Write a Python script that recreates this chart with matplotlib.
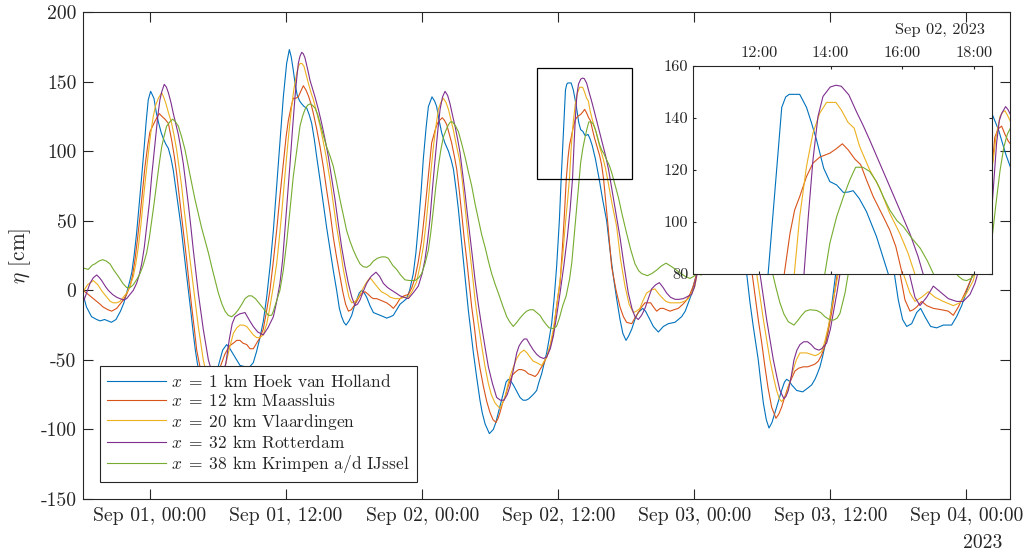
import numpy as np
import matplotlib
matplotlib.use("Agg")
import matplotlib.pyplot as plt
import matplotlib.dates as mdates
from matplotlib.patches import Rectangle

# ---------------- data: (hours since 2023-09-01 00:00, eta [cm]) ----------------
hoek_van_holland = [
    (-5.9,-3),(-5.6,-12),(-5.15,-19),(-4.7,-21),(-4.4,-22),(-4.0,-21),(-3.7,-22),(-3.4,-23),(-3.0,-21),(-2.6,-15),
    (-2.3,-9),(-2.06,-2),(-1.8,6),(-1.6,13),(-1.4,25),(-1.18,41),(-0.95,62),(-0.73,82),(-0.5,104),(-0.35,120),
    (-0.15,137),(0.06,143),(0.35,138),(0.55,128),(0.74,121),(1.0,113),(1.18,109),(1.4,105),(1.62,102),(1.85,95),
    (2.06,86),(2.3,72),(2.5,60),(2.75,45),(2.94,31),(3.2,13),(3.38,0),(3.6,-15),(3.82,-31),(4.0,-43),(4.17,-52),
    (4.5,-66),(4.9,-77),(5.3,-82),(5.7,-75),(6.04,-54),(6.41,-43),(6.76,-39),(7.05,-42),(7.35,-46),(7.65,-50),
    (7.94,-54),(8.4,-55),(8.8,-55),(9.11,-52),(9.4,-44),(9.7,-34),(10.0,-22),(10.29,-5),(10.6,18),(10.88,43),
    (11.1,67),(11.32,91),(11.55,116),(11.76,139),(12.05,163),(12.29,173),(12.45,168),(12.64,158),(12.82,147),
    (12.99,140),(13.2,136),(13.38,134),(13.6,132),(13.82,131),(14.05,126),(14.26,120),(14.5,108),(14.7,96),
    (15.0,79),(15.29,62),(15.58,45),(15.88,29),(16.17,14),(16.46,0),(16.7,-13),(16.9,-19),(17.1,-23),(17.29,-25),
    (17.55,-22),(17.79,-18),(18.0,-12),(18.23,-7),(18.45,-2),(18.67,0),(18.9,-2),(19.11,-5),(19.4,-11),(19.7,-16),
    (20.0,-17),(20.29,-18),(20.6,-19),(20.87,-20),(21.2,-19),(21.46,-18),(21.75,-14),(22.05,-10),(22.35,-8),
    (22.63,-6),(22.9,0),(23.22,12),(23.45,27),(23.66,46),(23.9,70),(24.1,94),(24.35,117),(24.55,132),(24.87,139),
    (25.1,136),(25.28,132),(25.5,122),(25.73,113),(26.0,106),(26.32,100),(26.55,94),(26.76,87),(27.0,72),
    (27.2,58),(27.4,41),(27.63,22),(27.85,4),(28.07,-14),(28.3,-30),(28.52,-45),(28.8,-62),(29.1,-79),(29.3,-88),
    (29.55,-96),(29.93,-103),(30.28,-100),(30.5,-95),(30.72,-88),(31.0,-79),(31.22,-72),(31.4,-66),(31.6,-64),
    (31.8,-65),(32.04,-68),(32.3,-72),(32.63,-77),(32.9,-79),(33.16,-79),(33.4,-78),(33.66,-76),(33.9,-74),
    (34.1,-72),(34.3,-66),(34.54,-60),(34.75,-53),(34.98,-45),(35.2,-35),(35.42,-24),(35.65,-5),(35.86,17),
    (36.1,50),(36.26,80),(36.45,112),(36.64,144),(36.75,148),(36.85,149),(37.14,149),(37.33,144),(37.47,138),
    (37.61,131.5),(37.81,120.6),(37.98,115.5),(38.17,114.2),(38.36,111.3),(38.5,111.5),(38.63,112),(38.8,109),
    (39.0,104),(39.28,94.4),(39.45,87),(39.61,80),(39.9,66),(40.27,50),(40.55,30),(40.86,10),(41.15,-6),
    (41.45,-21),(41.7,-31),(41.98,-36),(42.2,-33),(42.48,-28),(42.8,-20),(43.06,-16),(43.45,-13),(43.7,-15),
    (43.95,-19),(44.39,-26),(44.83,-30),(45.27,-26),(45.71,-24),(46.3,-23),(46.88,-19),(47.2,-15),(47.47,-9),
    (47.7,-4),(47.91,3),(48.21,12),(48.45,27),(48.66,46),(48.9,70),(49.1,94),(49.35,117),(49.55,132),(49.87,139),
    (50.1,136),(50.28,132),(50.5,122),(50.73,113),(51.0,106),(51.32,100),(51.55,94),(51.76,87),(52.0,72),
    (52.2,58),(52.4,36),(52.62,12),(52.9,-8),(53.2,-26),(53.4,-37),(53.64,-50),(53.85,-65),(54.09,-81),
    (54.35,-93),(54.59,-99),(54.85,-95),(55.11,-88),(55.4,-80),(55.7,-72),(55.95,-66),(56.14,-64),(56.35,-65),
    (56.59,-68),(57.03,-72),(57.56,-73),(58.05,-70),(58.35,-68),(58.64,-64),(58.85,-60),(59.08,-55),(59.3,-48),
    (59.52,-40),(59.75,-31),(59.96,-21),(60.1,-12),(60.26,-2),(60.47,12),(60.7,45),(60.9,78),(61.1,110),
    (61.3,140),(61.5,147),(61.75,147),(61.95,142),(62.2,130),(62.45,120),(62.6,115),(62.8,113),(63.0,111),
    (63.25,111),(63.6,104),(63.9,94),(64.2,80),(64.5,66),(64.9,48),(65.3,28),(65.64,12),(65.99,-7),(66.37,-21),
    (66.73,-26),(67.17,-24),(67.61,-16),(67.96,-13),(68.34,-19),(68.84,-26),(69.37,-27),(69.96,-25),(70.69,-25),
    (71.13,-19),(71.58,-11),(72.17,3),(72.6,12),(72.9,35),(73.2,65),(73.5,95),(73.8,118),(74.05,127),(74.25,127),
    (74.5,122),(74.84,115),(75.2,105),(75.5,97),(75.9,88),
]

maassluis = [
    (-5.9,0),(-5.44,-3),(-4.85,-7),(-4.4,-10),(-4.14,-12),(-3.7,-14),(-3.38,-15),(-2.94,-13),(-2.65,-10),(-2.35,-7),
    (-2.06,-3),(-1.76,3),(-1.55,10),(-1.32,22),(-1.1,37),(-0.88,53),(-0.66,71),(-0.44,89),(-0.2,104),(0.0,114),
    (0.35,120),(0.6,124),(0.82,127),(1.05,125),(1.32,123),(1.62,120),(1.91,108),(2.15,96),(2.35,84),(2.55,70),
    (2.79,53),(3.0,38),(3.23,22),(3.45,5),(3.68,-12),(3.9,-27),(4.12,-43),(4.41,-55),(4.8,-68),(5.3,-78),(5.8,-72),
    (6.2,-55),(6.6,-46),(7.0,-40),(7.35,-38),(7.65,-36),(7.94,-36),(8.2,-38),(8.53,-39),(8.82,-42),(9.11,-42),
    (9.41,-38),(9.7,-34),(9.99,-28),(10.3,-14),(10.58,0),(10.88,21),(11.17,43),(11.45,67),(11.76,91),(12.0,110),
    (12.2,122),(12.45,132),(12.64,138),(12.85,138),(13.08,139),(13.3,143),(13.52,147),(13.75,144),(13.96,140),
    (14.2,134),(14.41,127),(14.7,116),(15.0,103),(15.3,88),(15.58,72),(15.9,55),(16.17,38),(16.45,24),(16.76,10),
    (17.0,-1),(17.25,-10),(17.5,-15),(17.75,-14),(18.0,-11),(18.23,-8),(18.5,-4),(18.75,-2),(18.96,-1),(19.26,-3),
    (19.5,-5),(19.7,-6),(20.0,-6),(20.29,-7),(20.6,-8),(20.87,-9),(21.2,-11),(21.46,-13),(21.75,-10),(22.05,-6),
    (22.4,-4),(22.78,-3),(23.1,2),(23.37,9),(23.65,20),(23.96,36),(24.2,54),(24.4,70),(24.62,88),(24.84,106),
    (25.14,115),(25.35,120),(25.52,122),(25.78,124),(25.98,122),(26.17,119),(26.4,112),(26.6,106),(26.85,96),
    (27.05,87),(27.27,72),(27.49,55),(27.7,38),(27.93,22),(28.15,5),(28.37,-12),(28.6,-26),(28.81,-41),(29.1,-56),
    (29.4,-69),(29.7,-80),(29.99,-88),(30.25,-93),(30.51,-95),(30.7,-92),(30.86,-88),(31.1,-81),(31.3,-77),
    (31.55,-70),(31.75,-65),(31.95,-61),(32.19,-59),(32.5,-57),(32.78,-57),(33.1,-58),(33.36,-60),(33.7,-61),
    (33.96,-62),(34.2,-60),(34.39,-57),(34.7,-53),(34.98,-48),(35.3,-40),(35.57,-31),(35.8,-15),(36.0,-3),
    (36.16,5),(36.35,28),(36.55,55),(36.71,80),(36.87,95.6),(37.0,104.6),(37.14,109.7),(37.33,117.4),(37.51,122.6),
    (37.7,124.9),(37.98,126.4),(38.15,128),(38.33,130),(38.49,127.7),(38.68,124.1),(38.84,122),(39.0,116.2),
    (39.19,109.7),(39.47,102),(39.65,96.9),(39.82,90.5),(40.0,80),(40.35,50),(40.71,17),(41.1,0),(41.45,-12),
    (41.75,-19),(42.03,-23),(42.48,-24),(42.75,-20),(43.06,-16),(43.35,-12),(43.65,-9),(44.15,-9),(44.4,-12),
    (44.68,-15),(45.0,-13),(45.27,-13),(45.55,-14),(45.86,-15),(46.2,-14),(46.59,-13),(47.0,-10),(47.32,-7),
    (47.6,-3),(47.91,3),(48.21,12),(48.5,22),(48.8,38),(49.0,54),(49.2,70),(49.4,88),(49.62,104),(49.85,113),
    (50.1,119),(50.35,122),(50.6,124),(50.85,121),(51.1,116),(51.35,109),(51.6,100),(51.85,90),(52.1,77),
    (52.3,62),(52.5,46),(52.7,31),(52.9,20),(53.1,12),(53.64,-21),(53.95,-38),(54.23,-55),(54.5,-70),(54.82,-84),
    (55.2,-92),(55.45,-89),(55.7,-84),(56.0,-76),(56.29,-69),(56.6,-63),(56.88,-58),(57.2,-56),(57.61,-55),
    (58.0,-55),(58.35,-54),(58.65,-53),(58.93,-51),(59.2,-47),(59.52,-40),(59.8,-30),(60.11,-16),(60.35,-3),
    (60.61,12),(60.85,35),(61.1,65),(61.3,85),(61.5,100),(61.7,108),(61.95,116),(62.15,122),(62.35,125),
    (62.6,126),(62.8,128),(62.95,130),(63.1,128),(63.3,124),(63.5,121),(63.65,116),(63.85,110),(64.1,102),
    (64.3,96),(64.45,90),(64.65,80),(65.0,62),(65.4,40),(65.8,22),(66.14,12),(66.58,-7),(67.02,-15),(67.3,-14),
    (67.61,-12),(68.05,-8),(68.49,-11),(69.08,-13),(69.81,-14),(70.4,-15),(70.84,-18),(71.28,-12),(71.87,-2),
    (72.46,9),(72.9,25),(73.3,45),(73.7,65),(74.0,80),(74.3,92),(74.5,110),(74.8,116),(75.1,118),(75.4,112),
    (75.7,107),(75.9,105),
]

vlaardingen = [
    (-5.9,-1),(-5.5,4),(-5.0,7),(-4.6,4),(-4.2,-1),(-3.8,-5),(-3.5,-8),(-3.23,-9),(-2.94,-9),(-2.65,-8),(-2.35,-5),
    (-2.06,-2),(-1.76,3),(-1.47,10),(-1.25,19),(-1.03,31),(-0.8,47),(-0.59,65),(-0.37,82),(-0.15,98),(0.07,113),
    (0.29,125),(0.5,133),(0.74,138),(1.03,142),(1.2,139),(1.41,134),(1.65,127),(1.91,120),(2.13,111),(2.35,101),
    (2.57,88),(2.79,75),(3.0,59),(3.23,43),(3.5,24),(3.82,3),(4.05,-12),(4.26,-26),(4.5,-39),(4.7,-50),(5.1,-65),
    (5.6,-73),(6.1,-70),(6.6,-56),(7.0,-42),(7.35,-31),(7.65,-27),(7.94,-25),(8.23,-25),(8.53,-26),(8.82,-29),
    (9.11,-32),(9.41,-34),(9.7,-34),(9.99,-32),(10.3,-24),(10.58,-12),(10.88,3),(11.17,19),(11.4,37),(11.61,55),
    (11.83,76),(12.05,96),(12.27,115),(12.49,132),(12.7,145),(12.94,156),(13.1,161),(13.23,163),(13.4,163),
    (13.58,161),(13.77,155),(13.96,149),(14.2,142),(14.41,137),(14.7,128),(15.0,118),(15.3,106),(15.58,94),
    (15.9,78),(16.17,62),(16.45,46),(16.76,31),(17.05,15),(17.34,3),(17.55,-5),(17.79,-9),(18.1,-8),(18.38,-5),
    (18.7,0),(18.96,4),(19.2,7),(19.41,9),(19.7,6),(19.99,3),(20.4,-1),(20.87,-3),(21.2,-5),(21.6,-6),(22.05,-6),
    (22.4,-5),(22.78,-5),(23.1,-1),(23.51,6),(23.8,17),(24.1,31),(24.33,47),(24.55,65),(24.77,85),(24.99,103),
    (25.2,117),(25.43,130),(25.65,135),(25.87,138),(26.1,135),(26.32,130),(26.55,122),(26.76,115),(27.0,105),
    (27.29,94),(27.55,78),(27.78,60),(28.0,43),(28.22,27),(28.45,10),(28.67,-7),(28.95,-24),(29.25,-40),
    (29.55,-55),(29.84,-67),(30.1,-75),(30.43,-81),(30.86,-85),(31.05,-82),(31.3,-77),(31.5,-70),(31.75,-62),
    (32.05,-55),(32.34,-49),(32.65,-45),(32.98,-43),(33.25,-45),(33.51,-48),(33.8,-51),(34.1,-52),(34.54,-54),
    (34.75,-51),(34.98,-48),(35.3,-39),(35.57,-28),(35.85,-12),(36.16,7),(36.4,25),(36.6,45),(36.8,62),(36.99,80),
    (37.14,102),(37.33,121.3),(37.51,134.1),(37.7,141.8),(37.89,145.9),(38.15,145.9),(38.3,143),(38.49,138.2),
    (38.66,136),(38.81,129),(39.09,120),(39.37,113),(39.65,103.3),(39.93,95.6),(40.16,88),(40.35,80),(40.75,62),
    (41.15,46),(41.5,22),(41.89,3),(42.25,-10),(42.62,-16),(42.9,-15),(43.2,-13),(43.5,-7),(43.79,-2),(44.15,0),
    (44.53,1),(44.8,-2),(45.12,-5),(45.5,-8),(45.86,-9),(46.3,-9),(46.74,-9),(47.1,-8),(47.47,-6),(47.75,-2),
    (48.06,3),(48.25,12),(48.6,20),(48.85,31),(49.1,47),(49.35,65),(49.55,85),(49.8,103),(50.0,117),(50.25,130),
    (50.45,135),(50.7,138),(50.9,135),(51.15,130),(51.35,122),(51.6,115),(51.8,105),(52.1,94),(52.35,78),
    (52.6,60),(52.8,43),(53.0,30),(53.25,20),(53.5,12),(54.09,-21),(54.67,-50),(55.0,-63),(55.26,-72),(55.5,-78),
    (55.7,-80),(55.95,-77),(56.14,-74),(56.45,-65),(56.73,-57),(57.0,-50),(57.32,-45),(57.6,-45),(57.9,-45),
    (58.3,-46),(58.64,-47),(58.95,-46),(59.23,-44),(59.5,-37),(59.82,-26),(60.1,-13),(60.41,0),(60.7,12),
    (61.0,35),(61.3,60),(61.6,80),(61.75,102),(61.95,121),(62.1,134),(62.3,142),(62.5,146),(62.75,146),(62.9,143),
    (63.1,138),(63.25,136),(63.4,129),(63.7,120),(63.95,113),(64.25,103),(64.55,96),(64.75,88),(64.95,80),
    (65.35,62),(65.75,46),(66.1,25),(66.43,12),(67.02,-2),(67.46,-8),(68.05,-5),(68.64,-1),(69.22,-5),(69.96,-8),
    (70.84,-11),(71.43,-9),(72.02,-2),(72.6,7),(73.0,20),(73.4,40),(73.8,62),(74.1,80),(74.37,94),(74.6,110),
    (74.96,125),(75.2,128),(75.4,129),(75.6,126),(75.9,121),
]

rotterdam = [
    (-5.9,-9),(-5.6,-2),(-5.29,5),(-5.0,9),(-4.7,11),(-4.45,9),(-4.26,7),(-3.95,3),(-3.68,0),(-3.3,-3),(-2.94,-5),
    (-2.65,-6),(-2.35,-7),(-2.06,-6),(-1.76,-3),(-1.47,0),(-1.18,5),(-0.95,11),(-0.73,19),(-0.5,31),(-0.29,46),
    (-0.05,63),(0.15,82),(0.35,98),(0.53,113),(0.7,126),(0.88,137),(1.05,143),(1.26,148),(1.45,146),(1.62,142),
    (1.85,135),(2.06,127),(2.3,119),(2.5,112),(2.72,102),(2.94,91),(3.15,77),(3.38,62),(3.6,46),(3.82,29),
    (4.05,13),(4.26,-2),(4.5,-16),(4.7,-28),(4.95,-40),(5.15,-50),(5.5,-60),(5.9,-66),(6.3,-65),(6.7,-52),
    (7.0,-35),(7.25,-24),(7.5,-19),(7.9,-17),(8.38,-16),(8.8,-22),(9.11,-26),(9.5,-30),(9.99,-32),(10.4,-27),
    (10.88,-19),(11.15,-9),(11.46,5),(11.7,22),(11.9,43),(12.1,65),(12.35,91),(12.57,116),(12.79,139),(12.95,153),
    (13.08,163),(13.22,168),(13.38,171),(13.52,170),(13.67,167),(13.9,159),(14.11,151),(14.33,145),(14.55,139),
    (14.85,130),(15.14,120),(15.45,108),(15.73,96),(16.0,82),(16.32,65),(16.6,48),(16.9,31),(17.2,17),(17.49,5),
    (17.8,-5),(18.08,-11),(18.3,-10),(18.52,-7),(18.8,-1),(19.11,5),(19.5,10),(19.93,13),(20.25,10),(20.58,5),
    (20.95,2),(21.31,0),(21.7,-2),(22.05,-4),(22.4,-5),(22.78,-6),(23.2,-2),(23.66,3),(24.0,12),(24.25,22),
    (24.47,35),(24.69,51),(24.9,72),(25.14,94),(25.36,113),(25.58,130),(25.8,139),(26.02,143),(26.25,140),
    (26.46,134),(26.7,125),(26.9,118),(27.12,109),(27.34,99),(27.55,85),(27.78,70),(28.0,54),(28.22,39),
    (28.45,23),(28.67,7),(28.95,-10),(29.25,-26),(29.55,-41),(29.84,-55),(30.2,-67),(30.57,-77),(30.9,-79),
    (31.22,-79),(31.5,-75),(31.75,-69),(32.05,-57),(32.34,-45),(32.55,-40),(32.78,-37),(33.0,-35),(33.22,-35),
    (33.5,-39),(33.81,-43),(34.1,-46),(34.39,-48),(34.7,-49),(34.98,-48),(35.3,-42),(35.57,-33),(35.85,-19),
    (36.16,-2),(36.5,18),(36.8,38),(37.05,58),(37.26,80),(37.38,102),(37.51,123.8),(37.65,140.5),(37.79,148.2),
    (37.99,151.8),(38.15,152.5),(38.3,152.1),(38.51,148.8),(38.72,142.4),(38.9,137.3),(39.09,131.5),(39.37,122.6),
    (39.65,113.6),(39.93,104.6),(40.21,95.6),(40.44,86.7),(40.58,80),(41.0,60),(41.45,38),(41.8,18),(42.18,-2),
    (42.5,-13),(42.77,-19),(43.06,-21),(43.35,-18),(43.65,-13),(43.95,-6),(44.24,1),(44.6,4),(44.92,5.5),
    (45.25,2),(45.56,-2),(45.9,-5),(46.3,-6.5),(46.65,-6.5),(47.03,-6),(47.4,-4.5),(47.77,-3),(48.0,2),(48.25,12),
    (48.7,15),(49.0,22),(49.3,35),(49.6,51),(49.85,72),(50.1,94),(50.35,113),(50.6,130),(50.8,139),(51.05,143),
    (51.3,140),(51.5,134),(51.75,125),(51.95,118),(52.2,109),(52.45,99),(52.65,85),(52.9,70),(53.1,54),(53.3,39),
    (53.55,23),(53.79,12),(54.38,-21),(54.97,-50),(55.3,-63),(55.55,-72),(55.91,-78),(56.1,-76),(56.29,-72),
    (56.55,-62),(56.79,-50),(57.05,-43),(57.32,-39),(57.65,-37),(57.99,-37),(58.3,-39),(58.64,-42),(59.0,-43),
    (59.23,-42),(59.45,-40),(59.67,-38),(60.0,-28),(60.26,-16),(60.55,-3),(60.85,12),(61.15,28),(61.45,48),
    (61.75,65),(61.95,80),(62.1,102),(62.25,124),(62.4,140),(62.55,148),(62.75,152),(63.0,152),(63.2,149),
    (63.45,142),(63.65,137),(63.85,131),(64.1,123),(64.4,114),(64.7,105),(65.0,96),(65.2,87),(65.35,80),
    (65.8,60),(66.2,38),(66.6,22),(66.96,12),(67.46,-5),(67.9,-11),(68.49,-5),(69.08,3),(69.66,-1),(70.4,-6),
    (71.13,-8),(71.72,-8),(72.31,-3),(72.75,5),(73.1,15),(73.5,28),(73.9,45),(74.3,65),(74.66,106),(74.9,122),
    (75.1,127),(75.45,132),(75.65,130),(75.9,126),
]

krimpen = [
    (-5.9,16),(-5.44,15),(-5.1,18),(-4.85,19),(-4.5,21),(-4.17,22),(-3.85,21),(-3.53,19),(-3.15,14),(-2.79,10),
    (-2.4,5),(-2.06,2),(-1.75,2),(-1.47,4),(-1.15,8),(-0.88,12),(-0.6,18),(-0.29,27),(-0.05,38),(0.15,50),
    (0.37,63),(0.59,77),(0.8,90),(1.03,103),(1.25,111),(1.47,118),(1.75,121),(2.0,123),(2.25,121),(2.5,118),
    (2.8,110),(3.09,101),(3.38,89),(3.68,77),(3.95,66),(4.26,55),(4.55,45),(4.85,36),(5.15,27),(5.44,17),(5.75,7),
    (6.03,-2),(6.35,-10),(6.62,-15),(6.9,-18),(7.2,-19),(7.5,-17),(7.79,-14),(8.1,-10),(8.38,-6),(8.7,-4),
    (8.97,-4),(9.3,-6),(9.7,-10),(9.99,-13),(10.44,-18),(10.73,-18),(10.88,-15),(11.15,-8),(11.46,0),(11.75,14),
    (12.05,34),(12.35,58),(12.64,82),(12.95,101),(13.23,118),(13.45,125),(13.67,130),(13.9,133),(14.11,134),
    (14.33,133),(14.55,131),(14.8,126),(15.0,120),(15.3,111),(15.58,103),(15.9,96),(16.17,89),(16.45,78),
    (16.76,65),(17.05,54),(17.34,43),(17.65,35),(17.93,29),(18.2,24),(18.52,19),(18.8,17),(19.11,16.5),(19.4,18),
    (19.7,21),(20.05,23),(20.43,24),(20.75,24),(21.02,23),(21.4,18),(21.75,15),(22.1,11),(22.49,7.5),(22.9,7),
    (23.37,7),(23.7,9),(23.96,12),(24.25,19),(24.55,29),(24.77,42),(24.99,58),(25.2,74),(25.43,89),(25.65,101),
    (25.87,110),(26.1,115),(26.32,119),(26.5,121),(26.69,121),(26.95,118),(27.2,114),(27.5,105),(27.78,96),
    (28.08,85),(28.37,75),(28.67,62),(28.96,51),(29.25,40),(29.55,31),(29.84,21),(30.13,12),(30.45,4),(30.72,-2),
    (31.1,-11),(31.46,-19),(31.75,-23),(32.04,-26),(32.35,-23),(32.63,-20),(32.95,-17),(33.22,-15),(33.5,-14),
    (33.81,-14),(34.1,-16),(34.39,-18),(34.7,-22),(34.98,-25),(35.2,-27),(35.57,-27.5),(35.85,-26),(36.1,-20),
    (36.4,-11),(36.7,-4),(37.0,8),(37.2,20),(37.48,46),(37.7,67),(37.84,80),(37.98,91.8),(38.17,102),(38.36,109.7),
    (38.54,116.2),(38.7,121),(38.9,121),(39.09,119.4),(39.28,115.5),(39.47,109.7),(39.65,104.6),(39.85,100.5),
    (40.03,98.2),(40.25,94),(40.5,89.9),(40.7,85),(40.87,80),(41.3,67),(41.65,54),(42.03,41),(42.4,29),(42.77,19),
    (43.1,14),(43.36,12),(43.86,10.5),(44.25,12),(44.68,14.5),(45.1,17.5),(45.51,19.5),(46.0,17),(46.35,15),
    (46.74,12.5),(47.2,10),(47.62,8.5),(47.95,10),(48.21,12),(48.6,11),(48.86,12),(49.15,19),(49.45,29),
    (49.67,42),(49.9,58),(50.1,74),(50.33,89),(50.55,101),(50.77,110),(51.0,115),(51.22,119),(51.4,121),
    (51.6,121),(51.85,118),(52.1,114),(52.4,105),(52.68,96),(52.98,85),(53.27,75),(53.57,62),(53.86,51),
    (54.15,40),(54.45,30),(54.7,20),(54.91,12),(55.2,2),(55.55,-9),(55.9,-17),(56.29,-22.6),(56.79,-25),(57.1,-22),
    (57.47,-18),(57.8,-15),(58.2,-14),(58.79,-14.5),(59.15,-16),(59.52,-19),(59.9,-21),(60.26,-21.5),(60.6,-20),
    (60.85,-16.5),(61.05,-10),(61.29,-2),(61.58,12),(61.7,20),(61.98,46),(62.2,67),(62.34,80),(62.48,92),
    (62.67,102),(62.86,110),(63.04,116),(63.2,121),(63.4,121),(63.59,119),(63.78,115.5),(63.97,110),(64.15,105),
    (64.35,101),(64.53,98),(64.75,94),(65.0,90),(65.2,85),(65.37,80),(65.8,67),(66.15,54),(66.53,41),(66.9,29),
    (67.27,19),(67.6,14),(68.0,13),(68.5,14),(69.2,17),(70.0,19),(70.5,17),(71.0,13),(71.3,10),(71.7,7.5),
    (72.02,7),(72.4,8.5),(72.75,12),(73.2,20),(73.7,30),(74.31,41),(74.6,62),(74.96,86),(75.3,103),(75.6,112),
    (75.9,117),
]

labels = [r"$x\;=\;1$ km Hoek van Holland", r"$x\;=\;12$ km Maassluis", r"$x\;=\;20$ km Vlaardingen",
          r"$x\;=\;32$ km Rotterdam", r"$x\;=\;38$ km Krimpen a/d IJssel"]
colors = ["#0072BD", "#D95319", "#EDB120", "#7E2F8E", "#77AC30"]
series = [hoek_van_holland, maassluis, vlaardingen, rotterdam, krimpen]

main_xlim_h = (-5.88, 75.84)
zoom_xlim_h = (34 + 10 / 60, 42.5)
zoom_ylim = (80, 160)

# ---------------- style ----------------
plt.rcParams.update({
    "font.family": "serif",
    "font.serif": ["cmr10"],
    "mathtext.fontset": "cm",
    "axes.unicode_minus": False,
    "axes.formatter.use_mathtext": False,
    "text.color": "#262626",
    "xtick.color": "#262626",
    "ytick.color": "#262626",
    "axes.edgecolor": "#262626",
})

BASE = np.datetime64("2023-09-01T00:00:00")


def to_dt(hours):
    return BASE + np.round(np.asarray(hours, dtype=float) * 3600).astype("timedelta64[s]")


W, H = 1026, 553
fig = plt.figure(figsize=(W / 100, H / 100), dpi=100)

ax = fig.add_axes([83.3 / W, 1 - 499 / H, (1010 - 83.3) / W, (499 - 12) / H])
axin = fig.add_axes([693 / W, 1 - 274 / H, (992 - 693) / W, (274 - 65.7) / H])

for data, col, lab in zip(series, colors, labels):
    arr = np.array(data, dtype=float)
    tt = to_dt(arr[:, 0])
    ax.plot(tt, arr[:, 1], color=col, lw=0.8, label=lab)
    axin.plot(tt, arr[:, 1], color=col, lw=0.8)

# main axes
ax.set_xlim(to_dt(main_xlim_h[0]), to_dt(main_xlim_h[1]))
ax.set_ylim(-150, 200)
ax.set_yticks(np.arange(-150, 201, 50))
ax.xaxis.set_major_locator(mdates.HourLocator(byhour=[0, 12]))
ax.xaxis.set_major_formatter(mdates.DateFormatter("%b %d, %H:%M"))
ax.tick_params(direction="in", length=7, width=0.8, top=True, right=True, labelsize=14.2)
ax.tick_params(axis="x", pad=6)
ax.tick_params(axis="y", pad=5)
for s in ax.spines.values():
    s.set_linewidth(0.8)

fig.text(20 / W, 1 - 256 / H, r"$\eta$ [cm]", rotation=90, ha="center", va="center", fontsize=15.4)
fig.text(1002 / W, 1 - 543 / H, "2023", ha="right", va="center", fontsize=14.2)

# zoom rectangle
x0 = mdates.date2num(to_dt(zoom_xlim_h[0]))
x1 = mdates.date2num(to_dt(zoom_xlim_h[1]))
ax.add_patch(Rectangle((x0, zoom_ylim[0]), x1 - x0, zoom_ylim[1] - zoom_ylim[0],
                       fill=False, ec="black", lw=0.9, zorder=6))

leg = ax.legend(loc="lower left", bbox_to_anchor=(0.018, 0.0349, 0.342, 0.24), mode="expand",
                borderaxespad=0, fontsize=12.5, fancybox=False, framealpha=1, edgecolor="#262626",
                handlelength=3.4, handletextpad=0.3, labelspacing=0.13, borderpad=0.4)
leg.get_frame().set_linewidth(0.8)
leg.set_zorder(10)

# inset axes
axin.set_xlim(to_dt(zoom_xlim_h[0]), to_dt(zoom_xlim_h[1]))
axin.set_ylim(*zoom_ylim)
axin.set_yticks(np.arange(80, 161, 20))
axin.xaxis.set_major_locator(mdates.HourLocator(byhour=[12, 14, 16, 18]))
axin.xaxis.set_major_formatter(mdates.DateFormatter("%H:%M"))
axin.tick_params(direction="in", length=2.3, width=0.8, top=True, bottom=True, left=True, right=True,
                 labeltop=True, labelbottom=False, labelsize=11.8)
axin.tick_params(axis="x", pad=4.3)
axin.tick_params(axis="y", pad=3.4)
for s in axin.spines.values():
    s.set_linewidth(0.8)
fig.text(985 / W, 1 - 29.5 / H, "Sep 02, 2023", ha="right", va="center", fontsize=11.8)

fig.savefig("out.png", dpi=100)
